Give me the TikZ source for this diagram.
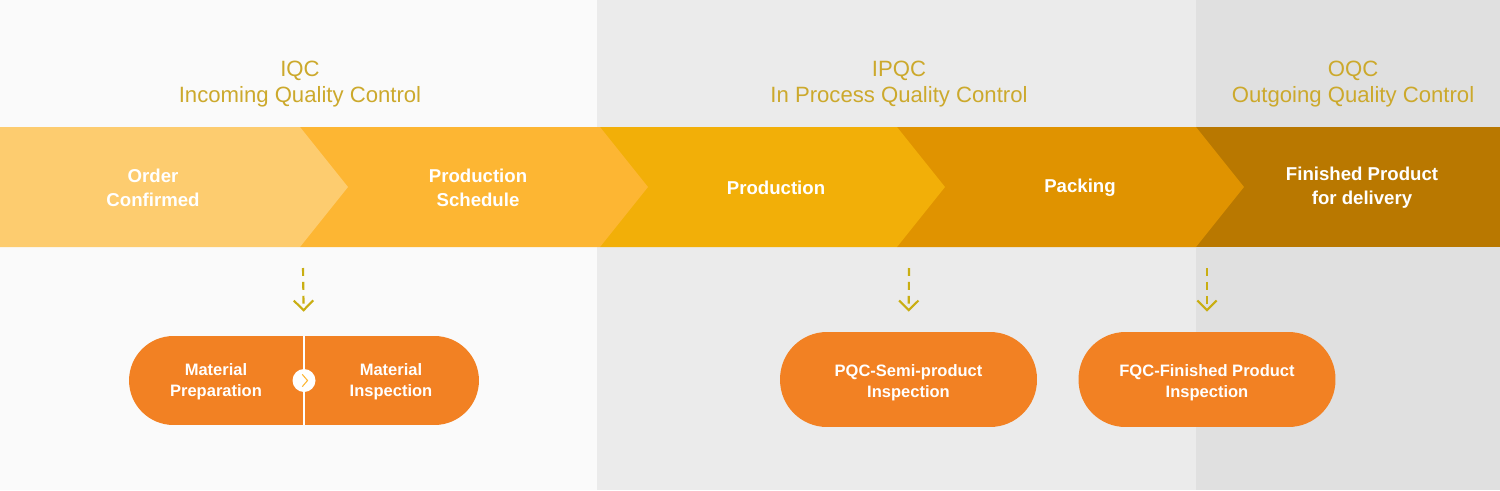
\documentclass[tikz,border=0pt]{standalone}
\usepackage{fontspec}
\setmainfont{Liberation Sans}
\usetikzlibrary{positioning, arrows.meta}
\definecolor{bgiqc}{HTML}{FAFAFA}
\definecolor{bgipqc}{HTML}{EBEBEB}
\definecolor{bgoqc}{HTML}{E0E0E0}
\definecolor{orderc}{HTML}{FDCC6F}
\definecolor{schedc}{HTML}{FDB633}
\definecolor{prodc}{HTML}{F2AF08}
\definecolor{packc}{HTML}{E09300}
\definecolor{finc}{HTML}{B97800}
\definecolor{pillorange}{HTML}{F28123}
\definecolor{headgold}{HTML}{CCA92C}
\definecolor{arrowgold}{HTML}{C9AE12}

\begin{document}
\begin{tikzpicture}[x=0.02cm, y=-0.02cm, >=Stealth,
    phase/.style={text=headgold, font=\fontsize{12.6}{14.7}\selectfont, align=center},
    steptext/.style={text=white, font=\bfseries\fontsize{10.6}{13.6}\selectfont, align=center},
    pill/.style={fill=pillorange, rounded corners=0.94cm, minimum width=5.14cm, minimum height=1.9cm, inner sep=0pt},
    pilltext/.style={text=white, font=\bfseries\fontsize{9.4}{11.9}\selectfont, align=center},
    checkarrow/.style={draw=arrowgold, line width=1.2pt, dash pattern=on 4.5pt off 3.4pt,
        -{Straight Barb[length=5.5pt, width=11pt, line width=1.2pt]}, shorten >=0.48cm}]
    % background
    \fill[bgiqc] (0,0) rectangle (597,490);
    \fill[bgipqc] (597,0) rectangle (1196,490);
    \fill[bgoqc] (1196,0) rectangle (1500,490);
    \useasboundingbox (0,0) rectangle (1500,490);

    \node[phase] (iqc) at (300,84) {IQC\\Incoming Quality Control};
    \node[phase] (ipqc) at (899,84) {IPQC\\In Process Quality Control};
    \node[phase] (oqc) at (1353,84) {OQC\\Outgoing Quality Control};

    % chevron band
    \fill[finc] (1196,127) rectangle (1500,247);
    \foreach \xa/\xb/\col in {897/1196/packc, 600/897/prodc, 300/600/schedc, 0/300/orderc}
        \fill[\col] (\xa,127) -- (\xb,127) -- (\xb+48,187) -- (\xb,247) -- (\xa,247) -- cycle;

    \node[steptext] (order) at (153,188) {Order\\Confirmed};
    \node[steptext] (sched) at (478,188) {Production\\Schedule};
    \node[steptext] (prod) at (776,188) {Production};
    \node[steptext] (pack) at (1080,188) {Packing};
    \node[steptext] (fin) at (1362,188) {Finished Product\\for delivery};

    % inspections
    \node[pill, minimum width=7cm, minimum height=1.78cm, rounded corners=0.89cm] (matpill) at (304,380.5) {};
    \node[pilltext] (prep) at (216,382) {Material\\Preparation};
    \node[pilltext] (insp) at (391,382) {Material\\Inspection};
    \draw[white, line width=1.4pt] (matpill.north) -- (matpill.south);
    \node[circle, fill=white, minimum size=0.46cm, inner sep=0pt] (sep) at (matpill.center) {};
    \draw[schedc, line width=0.6pt] ([xshift=-1pt, yshift=3.5pt]sep.center) -- ([xshift=2pt]sep.center) -- ([xshift=-1pt, yshift=-3.5pt]sep.center);

    \node[pill] (pqc) at (908.5,379.5) {};
    \node[pilltext] at ([yshift=-2pt]pqc.center) {PQC-Semi-product\\Inspection};
    \node[pill] (fqc) at (1207,379.5) {};
    \node[pilltext] at ([yshift=-2pt]fqc.center) {FQC-Finished Product\\Inspection};

    \coordinate (a1) at (303,268);
    \coordinate (a2) at (909,268);
    \coordinate (a3) at (1207,268);
    \draw[checkarrow] (a1) -- (matpill.north);
    \draw[checkarrow, shorten >=0.4cm] (a2) -- (pqc.north);
    \draw[checkarrow, shorten >=0.4cm] (a3) -- (fqc.north);
\end{tikzpicture}
\end{document}
